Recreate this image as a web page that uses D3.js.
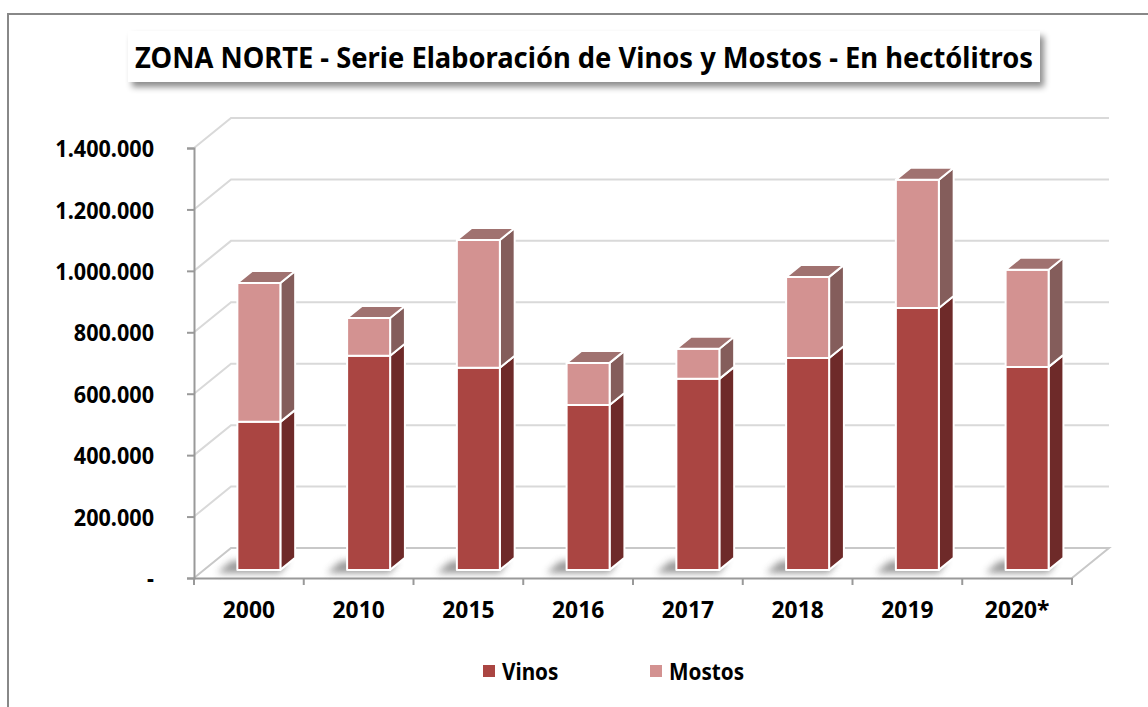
<!doctype html>
<html>
<head>
<meta charset="utf-8">
<title>Zona Norte</title>
<script src="https://d3js.org/d3.v7.min.js" charset="utf-8"></script>
<style>
	body{margin:0;background:#fff;}
	text{font-family:"Noto Sans",sans-serif;font-weight:bold;fill:#000;}
</style>
</head>
<body>
<div id="chart"></div>
<script>
// datos (hectólitros)
var years = ["2000","2010","2015","2016","2017","2018","2019","2020*"];
var vinos = [482000, 697000, 658000, 537000, 622000, 690000, 853000, 661000];
var mostos = [452000, 123000, 416000, 137000, 98000, 264000, 417000, 316000];
var yTicks = [0, 200000, 400000, 600000, 800000, 1000000, 1200000, 1400000];
var title = "ZONA NORTE - Serie Elaboración de Vinos y Mostos - En hectólitros";

var width = 1148, height = 707;
var svg = d3.select("#chart").append("svg")
	.attr("width", width).attr("height", height);

// comprime el texto en horizontal (letra angosta tipo Calibri)
function narrow(sel, k){
	sel.each(function(){
		var w = this.getComputedTextLength();
		d3.select(this).attr("textLength", w * k).attr("lengthAdjust","spacingAndGlyphs");
	});
}

var defs = svg.append("defs");
var f1 = defs.append("filter").attr("id","tshadow").attr("x","-10%").attr("y","-50%").attr("width","120%").attr("height","200%");
f1.append("feDropShadow").attr("dx",4).attr("dy",5).attr("stdDeviation",3).attr("flood-color","#000").attr("flood-opacity",0.45);
var f2 = defs.append("filter").attr("id","blur").attr("x","-50%").attr("y","-100%").attr("width","200%").attr("height","300%");
f2.append("feGaussianBlur").attr("stdDeviation",3.5);

// marco
svg.append("rect").attr("x",8).attr("y",14).attr("width",1160).attr("height",720)
	.attr("fill","none").attr("stroke","#888").attr("stroke-width",2);

// titulo
svg.append("rect").attr("x",128).attr("y",31).attr("width",912).attr("height",51)
	.attr("fill","#fff").attr("filter","url(#tshadow)");
svg.append("text").attr("x",135).attr("y",68).attr("font-size",29)
	.attr("textLength",898).attr("lengthAdjust","spacingAndGlyphs").text(title);

// escalas (plano frontal)
var x0 = 194, x1 = 1072, yBase = 578, yTop = 148;
var DX = 37, DY = -30;          // profundidad del piso
var t0 = 0.27, t1 = 0.67;      // profundidad de las barras

var xScale = d3.scaleBand().domain(years).range([x0, x1]);
var yScale = d3.scaleLinear().domain([0, 1400000]).range([yBase, yTop]);

var grid = svg.append("g");
// lineas de la pared trasera y lateral
yTicks.forEach(function(v){
	var y = yScale(v);
	if (v > 0) {
		grid.append("path")
			.attr("d","M"+x0+","+y+"L"+(x0+DX)+","+(y+DY)+"L"+(x1+DX)+","+(y+DY))
			.attr("fill","none").attr("stroke","#d9d9d9").attr("stroke-width",2);
	}
});
// piso
grid.append("path")
	.attr("d","M"+x0+","+yBase+"L"+(x0+DX)+","+(yBase+DY)+"L"+(x1+DX)+","+(yBase+DY)+"L"+x1+","+yBase)
	.attr("fill","none").attr("stroke","#c8c8c8").attr("stroke-width",2);

// eje y
var yAxis = svg.append("g").attr("transform","translate("+x0+",0)")
	.call(d3.axisLeft(yScale).tickValues(yTicks).tickSize(7).tickPadding(33)
		.tickFormat(function(d){ return d === 0 ? "-" : d3.format(",")(d).replace(/,/g,"."); }));
yAxis.attr("font-family",null).attr("font-size",null);
yAxis.select(".domain").attr("stroke","#999").attr("stroke-width",2);
yAxis.selectAll(".tick line").attr("stroke","#999").attr("stroke-width",2);
yAxis.selectAll(".tick text").attr("font-size",24).attr("dy","0.36em").call(narrow, 0.9);

// eje x
var xAxis = svg.append("g").attr("transform","translate(0,"+yBase+")")
	.call(d3.axisBottom(xScale).tickSize(0).tickPadding(23));
xAxis.attr("font-family",null).attr("font-size",null);
xAxis.select(".domain").attr("stroke","#999").attr("stroke-width",2);
xAxis.selectAll(".tick text").attr("font-size",24).call(narrow, 0.95);
// marcas entre categorias
svg.append("g").selectAll("line").data(d3.range(years.length + 1)).enter().append("line")
	.attr("x1",function(i){ return x0 + i * xScale.step(); })
	.attr("x2",function(i){ return x0 + i * xScale.step(); })
	.attr("y1",yBase).attr("y2",yBase+7)
	.attr("stroke","#999").attr("stroke-width",2);

// barras 3D
var barW = 43;
var colors = {
	vinos:  {front:"#aa4542", side:"#6e2a29", top:"#8a3a38"},
	mostos: {front:"#d39291", side:"#845d5b", top:"#a07270"}
};
var ox0 = t0*DX, oy0 = t0*DY, ox1 = t1*DX, oy1 = t1*DY;
var bars = svg.append("g");

years.forEach(function(c, i){
	var bx = xScale(c) + (xScale.bandwidth() - barW)/2 + ox0;
	var b0 = yScale(0) + oy0;
	// sombra en el piso
	bars.append("path")
		.attr("d","M"+(bx-20)+","+(b0+3)+"L"+(bx+barW)+","+(b0+3)+"L"+(bx+barW+8)+","+(b0-9)+"L"+(bx-6)+","+(b0-9)+"Z")
		.attr("fill","#555").attr("opacity",0.6).attr("filter","url(#blur)");
});

years.forEach(function(c, i){
	var bx = xScale(c) + (xScale.bandwidth() - barW)/2 + ox0;
	var segs = [
		{lo:0, hi:vinos[i], col:colors.vinos},
		{lo:vinos[i], hi:vinos[i]+mostos[i], col:colors.mostos}
	];
	segs.forEach(function(s, k){
		var yl = yScale(s.lo) + oy0, yh = yScale(s.hi) + oy0;
		var dxs = ox1 - ox0, dys = oy1 - oy0;
		var g = bars.append("g").attr("stroke","#fff").attr("stroke-width",2).attr("stroke-linejoin","round");
		// lado
		g.append("path")
			.attr("d","M"+(bx+barW)+","+yl+"L"+(bx+barW+dxs)+","+(yl+dys)+"L"+(bx+barW+dxs)+","+(yh+dys)+"L"+(bx+barW)+","+yh+"Z")
			.attr("fill",s.col.side);
		// frente
		g.append("rect").attr("x",bx).attr("y",yh).attr("width",barW).attr("height",yl-yh)
			.attr("fill",s.col.front);
		// tapa
		if (k === segs.length - 1) {
			g.append("path")
				.attr("d","M"+bx+","+yh+"L"+(bx+dxs)+","+(yh+dys)+"L"+(bx+barW+dxs)+","+(yh+dys)+"L"+(bx+barW)+","+yh+"Z")
				.attr("fill",s.col.top);
		}
	});
});

// leyenda
var legend = svg.append("g");
var items = [{name:"Vinos", col:colors.vinos.front, x:483}, {name:"Mostos", col:colors.mostos.front, x:650}];
items.forEach(function(it){
	legend.append("rect").attr("x",it.x).attr("y",665).attr("width",12).attr("height",12).attr("fill",it.col);
	legend.append("text").attr("x",it.x+19).attr("y",680).attr("font-size",23).text(it.name).call(narrow, 0.9);
});
</script>
</body>
</html>
